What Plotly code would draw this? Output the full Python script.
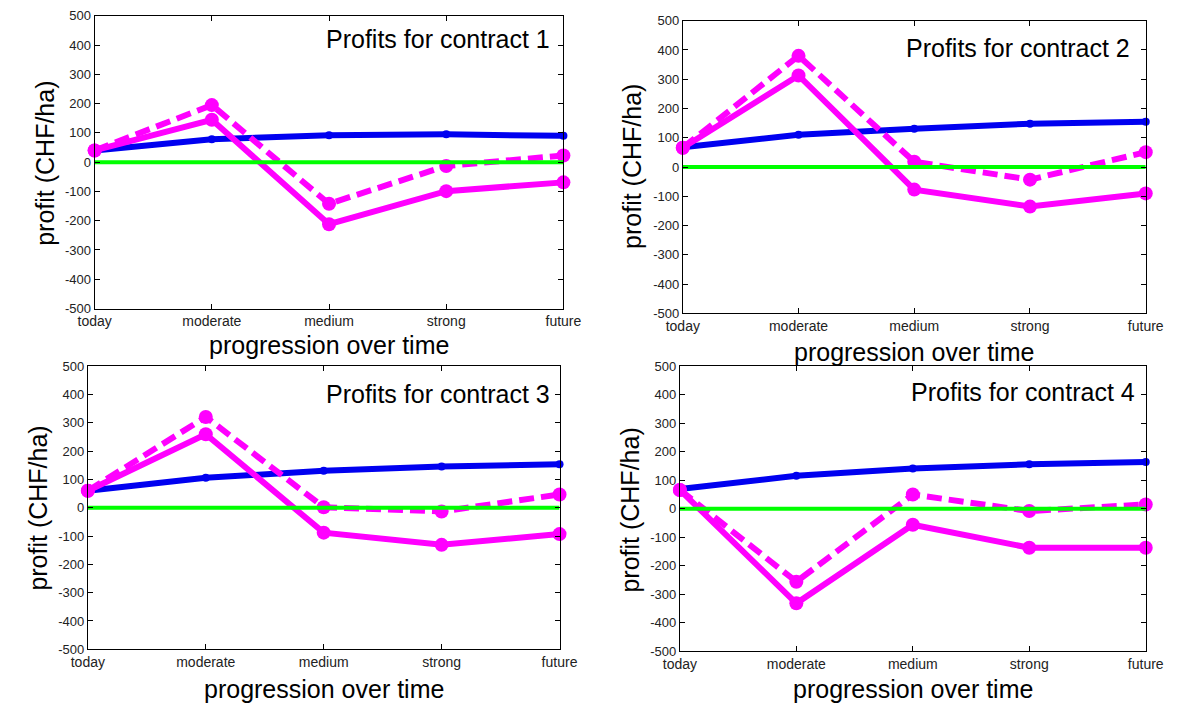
import plotly.graph_objects as go

categories = ["today", "moderate", "medium", "strong", "future"]
y_ticks = [-500, -400, -300, -200, -100, 0, 100, 200, 300, 400, 500]
y_ticktext = ["-500", "-400", "-300", "-200", "-100", "0", "100", "200", "300", "400", "500"]

blue1 = [40, 78, 92, 95, 90]
solid1 = [40, 145, -212, -99, -69]
dash1 = [40, 195, -142, -13, 23]

blue2 = [68, 110, 131, 148, 155]
solid2 = [66, 313, -77, -135, -90]
dash2 = [66, 380, 18, -43, 51]

blue3 = [60, 106, 131, 146, 154]
solid3 = [60, 260, -88, -131, -93]
dash3 = [60, 321, 2, -13, 47]

blue4 = [69, 116, 141, 156, 164]
solid4 = [66, -332, -56, -137, -137]
dash4 = [66, -256, 50, -8, 15]

zero = [0, 0, 0, 0, 0]

titles = ["Profits for contract 1", "Profits for contract 2",
          "Profits for contract 3", "Profits for contract 4"]
series = [(blue1, solid1, dash1), (blue2, solid2, dash2),
          (blue3, solid3, dash3), (blue4, solid4, dash4)]

W, H = 1188, 715
# plot boxes in pixels: left, right, top, bottom
boxes = [(80, 563, 9, 308), (686, 1163, 14, 313),
         (73, 559, 367, 656), (683, 1163, 367, 658)]
ylab_pos = [(28, 160), (633, 163), (22, 512), (632, 514)]
xlab_pos = [(321, 345), (924, 352), (316, 697), (923, 697)]
title_pos = [(551, 33), (1149, 42), (551, 395), (1154, 393)]

FONT = "Liberation Sans, Arial, sans-serif"
fig = go.Figure()
layout = dict(width=W, height=H, margin=dict(l=0, r=0, t=0, b=0),
              paper_bgcolor="white", plot_bgcolor="white", showlegend=False,
              font=dict(family=FONT, color="#222"))
annotations = []
for i, (b, s, d) in enumerate(series):
    n = "" if i == 0 else str(i + 1)
    xa, ya = "x" + n, "y" + n
    fig.add_trace(go.Scatter(x=categories, y=b, xaxis=xa, yaxis=ya, mode="lines+markers",
                             line=dict(color="#0000f0", width=6),
                             marker=dict(size=8, color="#0000f0"), cliponaxis=False))
    fig.add_trace(go.Scatter(x=categories, y=s, xaxis=xa, yaxis=ya, mode="lines+markers",
                             line=dict(color="#ff00ff", width=6),
                             marker=dict(size=14, color="#ff00ff"), cliponaxis=False))
    fig.add_trace(go.Scatter(x=categories, y=d, xaxis=xa, yaxis=ya, mode="lines+markers",
                             line=dict(color="#ff00ff", width=6, dash="15px,7px"),
                             marker=dict(size=14, color="#ff00ff"), cliponaxis=False))
    fig.add_trace(go.Scatter(x=categories, y=zero, xaxis=xa, yaxis=ya, mode="lines",
                             line=dict(color="#00ff00", width=4)))
    l, r, t, bt = boxes[i]
    layout["xaxis" + n] = dict(domain=[l / W, r / W], anchor=ya, type="category",
                               categoryorder="array", categoryarray=categories,
                               range=[0, 4], showgrid=False, zeroline=False,
                               showline=True, linecolor="black", linewidth=1, mirror="ticks",
                               ticks="inside", ticklen=5, tickcolor="black",
                               tickfont=dict(size=14, color="#222", family=FONT))
    layout["yaxis" + n] = dict(domain=[1 - bt / H, 1 - t / H], anchor=xa,
                               range=[-500, 500], tickvals=y_ticks, ticktext=y_ticktext,
                               showgrid=False,
                               zeroline=False, showline=True, linecolor="black", linewidth=1,
                               mirror="ticks", ticks="inside", ticklen=5, tickcolor="black",
                               tickfont=dict(size=13, color="#222", family=FONT))
    annotations.append(dict(text="profit (CHF/ha)", x=ylab_pos[i][0] / W, y=1 - ylab_pos[i][1] / H,
                            xref="paper", yref="paper", showarrow=False, textangle=-90,
                            xanchor="center", yanchor="middle",
                            font=dict(size=25, color="black", family=FONT)))
    annotations.append(dict(text="progression over time", x=xlab_pos[i][0] / W, y=1 - xlab_pos[i][1] / H,
                            xref="paper", yref="paper", showarrow=False,
                            xanchor="center", yanchor="middle",
                            font=dict(size=25, color="black", family=FONT)))
    annotations.append(dict(text=titles[i], x=title_pos[i][0] / W, y=1 - title_pos[i][1] / H,
                            xref="paper", yref="paper", showarrow=False,
                            xanchor="right", yanchor="middle",
                            font=dict(size=25, color="black", family=FONT)))
layout["annotations"] = annotations
fig.update_layout(**layout)
fig.write_html("out.html")
